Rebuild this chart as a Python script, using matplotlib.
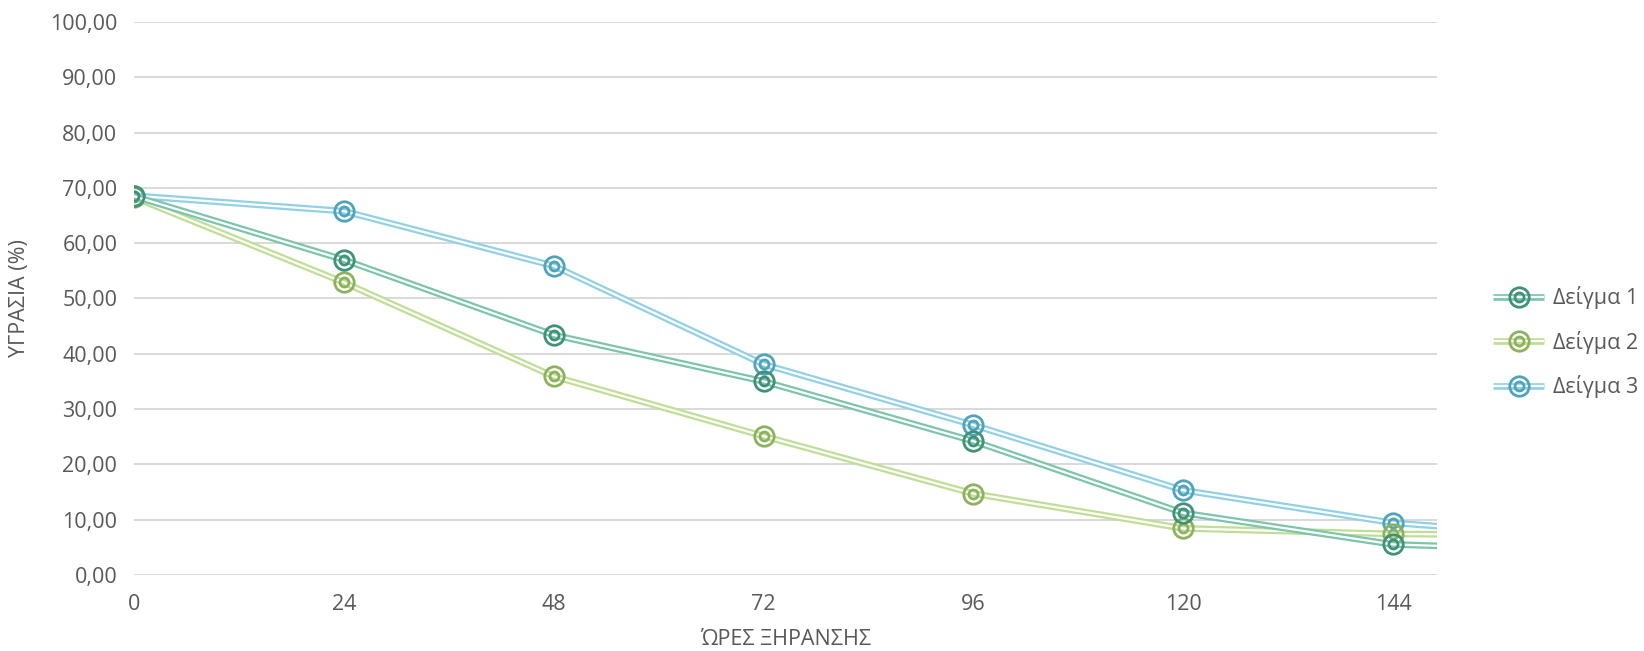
import matplotlib.pyplot as plt
import matplotlib.patheffects as pe
from matplotlib.legend_handler import HandlerTuple
from matplotlib.ticker import FuncFormatter

# ώρες ξήρανσης (το 168 βρίσκεται έξω από τον άξονα, δίνει μόνο τη συνέχεια της γραμμής)
hours = [0, 24, 48, 72, 96, 120, 144, 168]

sample_1 = [68.5, 57.0, 43.4, 35.0, 24.2, 11.2, 5.5, 4.3]
sample_2 = [68.3, 52.9, 35.9, 25.1, 14.7, 8.4, 7.4, 7.1]
sample_3 = [68.6, 65.8, 55.9, 38.1, 27.1, 15.3, 9.4, 6.6]

labels = ["Δείγμα 1", "Δείγμα 2", "Δείγμα 3"]
line_colors = ["#7cc5aa", "#c0de96", "#92d1e3"]
marker_colors = ["#3f917a", "#8db25e", "#4fa3ba"]

FONT = ["Open Sans", "DejaVu Sans"]
TEXT_COLOR = "#595959"
FS = 15.5

fig = plt.figure(figsize=(16.44, 6.51), dpi=100)
ax = fig.add_axes([0.0815, 0.117, 0.7925, 0.849])

series = [sample_1, sample_2, sample_3]
handles = [None] * 3

# σειρά σχεδίασης 3 -> 1 ώστε το Δείγμα 1 να είναι από πάνω
for i in [2, 1, 0]:
    vals = series[i]
    z = 3 + (2 - i)
    ln, = ax.plot(hours, vals, color=line_colors[i], lw=4.8, zorder=z,
                  solid_capstyle="butt",
                  path_effects=[pe.Stroke(linewidth=4.8, foreground=line_colors[i]),
                                pe.Stroke(linewidth=1.6, foreground="white")])
    outer, = ax.plot(hours[:7], vals[:7], ls="none", marker="o", ms=14,
                     mfc="none", mec=marker_colors[i], mew=2.0, zorder=z + 0.5)
    inner, = ax.plot(hours[:7], vals[:7], ls="none", marker="o", ms=6.5,
                     mfc="none", mec=marker_colors[i], mew=2.0, zorder=z + 0.5)
    handles[i] = (ln, outer, inner)

ax.set_xlim(0, 149)
ax.set_ylim(0, 100)
ax.set_xticks([0, 24, 48, 72, 96, 120, 144])
ax.set_yticks(range(0, 101, 10))
ax.yaxis.set_major_formatter(FuncFormatter(lambda v, p: f"{v:.2f}".replace(".", ",")))

ax.grid(axis="y", color="#d9d9d9", lw=1.4)
ax.set_axisbelow(True)
for s in ax.spines.values():
    s.set_visible(False)
ax.tick_params(length=0, labelsize=FS, labelcolor=TEXT_COLOR, pad=12)
ax.tick_params(axis="x", pad=14)
for t in ax.get_xticklabels() + ax.get_yticklabels():
    t.set_family(FONT)

ax.set_xlabel("ΏΡΕΣ ΞΗΡΑΝΣΗΣ", fontsize=FS, color=TEXT_COLOR, family=FONT, labelpad=10)
ax.set_ylabel("ΥΓΡΑΣΙΑ (%)", fontsize=FS, color=TEXT_COLOR, family=FONT, labelpad=14)

leg = ax.legend(handles, labels, handler_map={tuple: HandlerTuple(ndivide=1)},
                loc="center left", bbox_to_anchor=(1.0, 0.421), frameon=False,
                prop={"family": FONT, "size": FS}, labelcolor=TEXT_COLOR,
                handlelength=2.4, handletextpad=0.4, labelspacing=1.0,
                borderaxespad=2.2)

fig.savefig("out.png", dpi=100)
